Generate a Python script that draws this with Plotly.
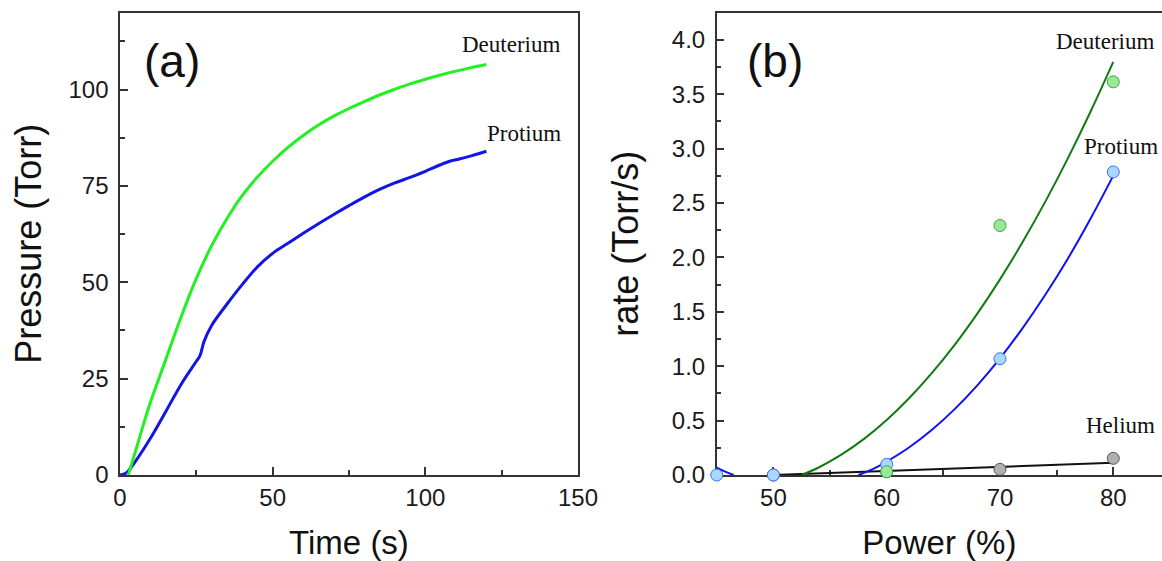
import plotly.graph_objects as go

# ---- Panel (a): pressure rise over time ----
time_d = [2.7, 5, 8, 10, 15, 20, 25, 30, 35, 40, 45, 50, 55, 60, 65, 70, 75, 80,
          85, 90, 95, 100, 105, 110, 115, 120]
pres_d = [0, 6, 14, 19, 30, 41, 51, 59.5, 66.5, 72.5, 77.3, 81.4, 85.0, 88.1, 90.8,
          93.1, 95.1, 96.9, 98.6, 100.1, 101.5, 102.7, 103.8, 104.8, 105.7, 106.5]

time_p = [0, 2, 5, 10, 15, 20, 25, 26.2, 27.5, 30, 35, 40, 45, 50, 55, 60, 65, 70,
          75, 80, 85, 90, 95, 100, 105, 108, 110, 115, 120]
pres_p = [0, 0.5, 3.5, 9.6, 16.5, 23.5, 29.5, 31, 34.6, 38.8, 44.3, 49.4, 54, 57.5,
          60.1, 62.7, 65.2, 67.6, 69.9, 72.1, 74.1, 75.8, 77.2, 78.8, 80.5, 81.4,
          81.8, 82.8, 84]

# ---- Panel (b): rate vs power ----
power_p = [45, 50, 60, 70, 80]
rate_p = [0.0, 0.0, 0.098, 1.068, 2.785]
power_d = [60, 70, 80]
rate_d = [0.03, 2.293, 3.613]
power_he = [50, 60, 70, 80]
rate_he = [0.0, 0.03, 0.052, 0.153]

# fitted curves (None separates the parts that fall below the axis)
fit_x_p = [45, 45.7, 46.5, None, 57.5, 58, 59, 60, 62, 64, 66, 68, 70, 72, 74, 76, 78, 80]
fit_y_p = [0.068, 0.033, 0.0, None, 0.0, 0.019, 0.065, 0.123, 0.255, 0.415, 0.605,
           0.824, 1.072, 1.35, 1.656, 1.99, 2.357, 2.751]
fit_x_d = [52.5, 54, 56, 58, 60, 62, 64, 66, 68, 70, 72, 74, 76, 78, 80]
fit_y_d = [0.0, 0.069, 0.187, 0.332, 0.506, 0.708, 0.938, 1.196, 1.483, 1.798,
           2.141, 2.512, 2.912, 3.34, 3.796]
fit_x_he = [50, 80]
fit_y_he = [0.0, 0.113]

SANS = "Liberation Sans, Arial, sans-serif"
SERIF = "Liberation Serif, Times New Roman, serif"
AX = "#333333"

fig = go.Figure()

fig.add_trace(go.Scatter(x=time_p, y=pres_p, mode="lines", line=dict(color="#1414e6", width=3),
                         line_shape="spline", xaxis="x", yaxis="y", name="Protium"))
fig.add_trace(go.Scatter(x=time_d, y=pres_d, mode="lines", line=dict(color="#22f022", width=3),
                         line_shape="spline", xaxis="x", yaxis="y", name="Deuterium"))

fig.add_trace(go.Scatter(x=fit_x_he, y=fit_y_he, mode="lines", line=dict(color="#111111", width=2),
                         xaxis="x2", yaxis="y2", name="Helium fit"))
fig.add_trace(go.Scatter(x=fit_x_d, y=fit_y_d, mode="lines", line=dict(color="#117a11", width=2),
                         line_shape="spline", xaxis="x2", yaxis="y2", name="Deuterium fit"))
fig.add_trace(go.Scatter(x=fit_x_p, y=fit_y_p, mode="lines", line=dict(color="#1010f5", width=2),
                         line_shape="spline", connectgaps=False, xaxis="x2", yaxis="y2",
                         name="Protium fit"))

fig.add_trace(go.Scatter(x=power_he, y=rate_he, mode="markers",
                         marker=dict(size=12, color="#b0b0b0", line=dict(color="#555555", width=1)),
                         xaxis="x2", yaxis="y2", name="Helium", cliponaxis=False))
fig.add_trace(go.Scatter(x=power_p, y=rate_p, mode="markers",
                         marker=dict(size=12, color="#a8d8ff", line=dict(color="#3a6cff", width=1)),
                         xaxis="x2", yaxis="y2", name="Protium", cliponaxis=False))
fig.add_trace(go.Scatter(x=power_d, y=rate_d, mode="markers",
                         marker=dict(size=12, color="#98e898", line=dict(color="#3aa83a", width=1)),
                         xaxis="x2", yaxis="y2", name="Deuterium", cliponaxis=False))

tickfont = dict(family=SANS, size=24, color="#1a1a1a")
common = dict(showline=True, linecolor=AX, linewidth=1.5, ticks="inside", ticklen=8,
              tickwidth=1.5, tickcolor=AX, showgrid=False, zeroline=False, tickfont=tickfont,
              automargin=False, layer="below traces")
minor_tick = dict(ticks="inside", ticklen=5, tickcolor=AX, tickwidth=1.5)

fig.update_layout(
    width=1162, height=561,
    margin=dict(l=0, r=0, t=0, b=0),
    paper_bgcolor="white", plot_bgcolor="white",
    showlegend=False,
    xaxis=dict(common, domain=[0.1033, 0.4974], range=[0, 150], dtick=50, mirror=True,
               minor=dict(minor_tick, dtick=25), anchor="y",
               title=dict(text="Time (s)", font=dict(family=SANS, size=33, color="#111"), standoff=21)),
    yaxis=dict(common, domain=[0.1533, 0.9777], range=[0, 120], dtick=25, mirror=True,
               minor=dict(minor_tick, dtick=12.5), anchor="x", ticklabelstandoff=5,
               title=dict(text="Pressure (Torr)", font=dict(family=SANS, size=36, color="#111"), standoff=16)),
    xaxis2=dict(common, domain=[0.6168, 1.0], range=[45, 84.3], dtick=10, tick0=50, mirror=True,
                minor=dict(minor_tick, dtick=5), anchor="y2",
                title=dict(text="Power (%)", font=dict(family=SANS, size=33, color="#111"), standoff=21)),
    yaxis2=dict(common, domain=[0.1533, 0.9777], range=[0, 4.25], dtick=0.5, tickformat=".1f",
                mirror=False, minor=dict(minor_tick, dtick=0.25), anchor="x2", ticklabelstandoff=5,
                title=dict(text="rate (Torr/s)", font=dict(family=SANS, size=36, color="#111"), standoff=22)),
)

labels = [
    dict(text="(a)", x=172, y=61, font=dict(family=SANS, size=46, color="#111")),
    dict(text="(b)", x=775, y=61, font=dict(family=SANS, size=46, color="#111")),
    dict(text="Deuterium", x=511, y=45, font=dict(family=SERIF, size=23, color="#111")),
    dict(text="Protium", x=524, y=133, font=dict(family=SERIF, size=23, color="#111")),
    dict(text="Deuterium", x=1105, y=41, font=dict(family=SERIF, size=23, color="#111")),
    dict(text="Protium", x=1121, y=147, font=dict(family=SERIF, size=23, color="#111")),
    dict(text="Helium", x=1120, y=425, font=dict(family=SERIF, size=23, color="#111")),
]
for lab in labels:
    fig.add_annotation(text=lab["text"], x=lab["x"] / 1162, y=1 - lab["y"] / 561,
                       xref="paper", yref="paper", xanchor="center", yanchor="middle",
                       showarrow=False, font=lab["font"])

fig.write_html("out.html")
